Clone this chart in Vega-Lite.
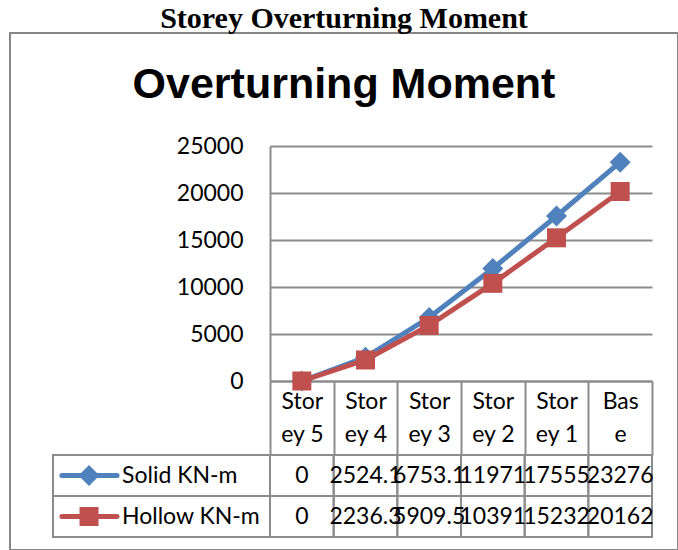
{
  "$schema": "https://vega.github.io/schema/vega-lite/v6.json",
  "autosize": "none",
  "width": 668,
  "height": 517,
  "padding": {"left": 10, "top": 33, "right": 0, "bottom": 0},
  "background": "white",
  "title": {
    "text": "Storey Overturning Moment",
    "subtitle": "Overturning Moment",
    "anchor": "middle",
    "frame": "group",
    "offset": -74,
    "font": "Liberation Serif",
    "fontSize": 30,
    "fontWeight": "bold",
    "color": "black",
    "subtitleFont": "Liberation Sans",
    "subtitleFontSize": 43,
    "subtitleFontWeight": "bold",
    "subtitleColor": "black",
    "subtitlePadding": 30
  },
  "config": {
    "view": {"stroke": "#868686", "strokeWidth": 2},
    "font": "Lato"
  },
  "data": {
    "values": [
      {"storey": "Storey 5", "series": "Solid KN-m", "value": 0},
      {"storey": "Storey 4", "series": "Solid KN-m", "value": 2524.1},
      {"storey": "Storey 3", "series": "Solid KN-m", "value": 6753.1},
      {"storey": "Storey 2", "series": "Solid KN-m", "value": 11971},
      {"storey": "Storey 1", "series": "Solid KN-m", "value": 17555},
      {"storey": "Base", "series": "Solid KN-m", "value": 23276},
      {"storey": "Storey 5", "series": "Hollow KN-m", "value": 0},
      {"storey": "Storey 4", "series": "Hollow KN-m", "value": 2236.3},
      {"storey": "Storey 3", "series": "Hollow KN-m", "value": 5909.5},
      {"storey": "Storey 2", "series": "Hollow KN-m", "value": 10391},
      {"storey": "Storey 1", "series": "Hollow KN-m", "value": 15232},
      {"storey": "Base", "series": "Hollow KN-m", "value": 20162}
    ]
  },
  "resolve": {"scale": {"x": "independent", "y": "independent"}},
  "layer": [
    {
      "encoding": {
        "x": {
          "field": "storey", "type": "ordinal", "bandPosition": 0.5,
          "scale": {"type": "band", "domain": ["Storey 5", "Storey 4", "Storey 3", "Storey 2", "Storey 1", "Base"], "range": [260, 642], "paddingInner": 0, "paddingOuter": 0},
          "axis": {
            "orient": "bottom", "offset": -169, "title": null, "grid": false,
            "tickBand": "extent", "tickSize": 74, "tickColor": "#8c8c8c", "tickWidth": 2,
            "domainColor": "#8c8c8c", "domainWidth": 2,
            "labelExpr": "datum.label == 'Base' ? ['Bas', 'e'] : [substring(datum.label, 0, 4), substring(datum.label, 4)]",
            "labelFont": "Lato", "labelFontSize": 23, "labelColor": "black",
            "labelPadding": -65, "labelLineHeight": 33, "labelAngle": 0, "zindex": 0
          }
        },
        "y": {
          "field": "value", "type": "quantitative",
          "scale": {"domain": [0, 25000], "range": [348, 113], "nice": false},
          "axis": {
            "orient": "left", "offset": -260, "title": null,
            "values": [0, 5000, 10000, 15000, 20000, 25000], "format": "d",
            "grid": true, "gridColor": "#8c8c8c", "gridWidth": 2,
            "domain": true, "domainColor": "#8c8c8c", "domainWidth": 2,
            "ticks": false, "tickSize": 0, "labelPadding": 27,
            "labelFont": "Lato", "labelFontSize": 23, "labelColor": "black", "zindex": 0
          }
        },
        "color": {
          "field": "series", "type": "nominal", "legend": null,
          "scale": {"domain": ["Solid KN-m", "Hollow KN-m"], "range": ["#4F81BD", "#C0504D"]}
        }
      },
      "layer": [
        {"mark": {"type": "line", "strokeWidth": 5}},
        {
          "mark": {"type": "point", "filled": true, "opacity": 1},
          "encoding": {
            "shape": {"field": "series", "type": "nominal", "legend": null, "scale": {"domain": ["Solid KN-m", "Hollow KN-m"], "range": ["diamond", "square"]}},
            "size": {"field": "series", "type": "nominal", "legend": null, "scale": {"domain": ["Solid KN-m", "Hollow KN-m"], "range": [441, 361]}}
          }
        }
      ]
    },
    {
      "encoding": {
        "x": {
          "field": "storey", "type": "ordinal",
          "scale": {"type": "band", "domain": ["Storey 5", "Storey 4", "Storey 3", "Storey 2", "Storey 1", "Base"], "range": [260, 642], "paddingInner": 0, "paddingOuter": 0},
          "axis": null
        },
        "y": {
          "field": "series", "type": "nominal",
          "scale": {"type": "band", "domain": ["Solid KN-m", "Hollow KN-m"], "range": [422, 504], "paddingInner": 0, "paddingOuter": 0},
          "axis": null
        }
      },
      "layer": [
        {"mark": {"type": "rect", "filled": false, "stroke": "#8c8c8c", "strokeWidth": 2}},
        {
          "mark": {"type": "text", "font": "Lato", "fontSize": 23, "color": "black", "align": "center", "baseline": "middle"},
          "encoding": {"text": {"field": "value", "type": "nominal"}}
        }
      ]
    },
    {
      "transform": [{"filter": {"field": "storey", "equal": "Base"}}],
      "encoding": {
        "y": {
          "field": "series", "type": "nominal",
          "scale": {"type": "band", "domain": ["Solid KN-m", "Hollow KN-m"], "range": [422, 504], "paddingInner": 0, "paddingOuter": 0},
          "axis": null
        }
      },
      "layer": [
        {
          "mark": {"type": "rect", "filled": false, "stroke": "#8c8c8c", "strokeWidth": 2},
          "encoding": {
            "x": {"datum": 0, "type": "quantitative", "scale": {"domain": [0, 1], "range": [43, 260], "nice": false, "zero": false}, "axis": null},
            "x2": {"datum": 1}
          }
        },
        {
          "mark": {"type": "rule", "strokeWidth": 5, "strokeCap": "round"},
          "encoding": {
            "x": {"datum": 0.041, "type": "quantitative", "scale": {"domain": [0, 1], "range": [43, 260], "nice": false, "zero": false}, "axis": null},
            "x2": {"datum": 0.295},
            "color": {"field": "series", "type": "nominal", "legend": null}
          }
        },
        {
          "mark": {"type": "point", "filled": true, "opacity": 1},
          "encoding": {
            "x": {"datum": 0.166, "type": "quantitative", "scale": {"domain": [0, 1], "range": [43, 260], "nice": false, "zero": false}, "axis": null},
            "color": {"field": "series", "type": "nominal", "legend": null},
            "shape": {"field": "series", "type": "nominal", "legend": null},
            "size": {"field": "series", "type": "nominal", "legend": null}
          }
        },
        {
          "mark": {"type": "text", "font": "Lato", "fontSize": 23, "color": "black", "align": "left", "baseline": "middle"},
          "encoding": {
            "x": {"datum": 0.318, "type": "quantitative", "scale": {"domain": [0, 1], "range": [43, 260], "nice": false, "zero": false}, "axis": null},
            "text": {"field": "series", "type": "nominal"}
          }
        }
      ]
    }
  ]
}
